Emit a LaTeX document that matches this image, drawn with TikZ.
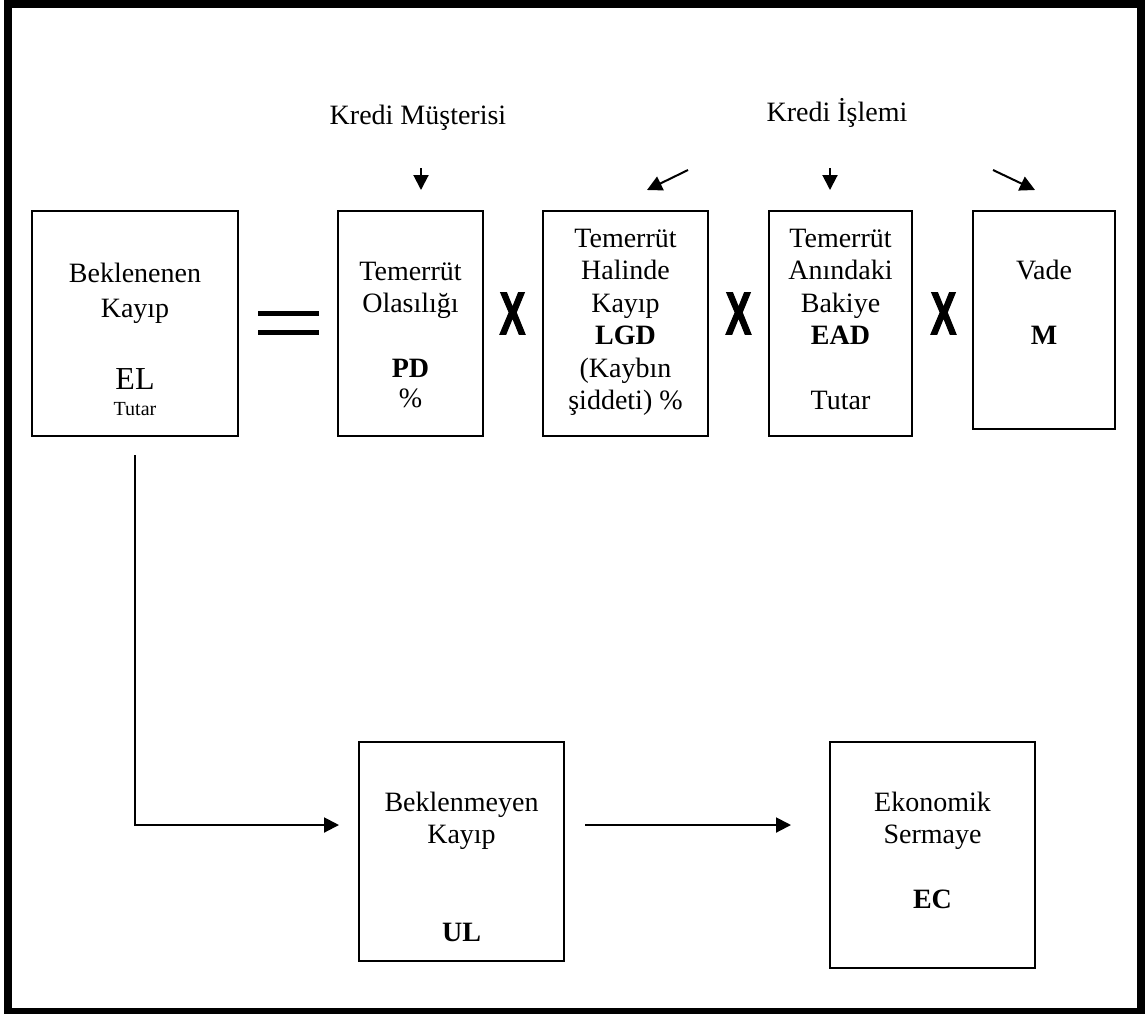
\documentclass[tikz,border=0pt]{standalone}
\usepackage{fontspec}
\usepackage{graphicx}
\setmainfont{Liberation Serif}
\newfontfamily\xfont[FakeBold=2.5]{Liberation Sans Bold}
\usetikzlibrary{arrows.meta}
\begin{document}
\begin{tikzpicture}[x=1pt,y=-1pt,
  box/.style={draw,line width=2pt,rectangle,inner sep=0pt},
  txt/.style={inner sep=0pt,anchor=base,font=\fontsize{28}{32.5}\selectfont},
  arr/.style={line width=2pt,-{Triangle[length=15pt,width=15pt]}},
  times/.style={inner sep=0pt,anchor=center,font=\xfont\fontsize{60}{60}\selectfont}]
\useasboundingbox (0,0) rectangle (1147,1013);
% frame
\draw[line width=8pt] (8,3.5) rectangle (1141,1012);

% boxes
\node[box,minimum width=206pt,minimum height=225pt] (EL) at (135,323.5) {};
\node[box,minimum width=145pt,minimum height=225pt] (PD) at (410.5,323.5) {};
\node[box,minimum width=165pt,minimum height=225pt] (LGD) at (625.5,323.5) {};
\node[box,minimum width=143pt,minimum height=225pt] (EAD) at (840.5,323.5) {};
\node[box,minimum width=142pt,minimum height=218pt] (VADE) at (1044,320) {};
\node[box,minimum width=205pt,minimum height=219pt] (UL) at (461.5,851.5) {};
\node[box,minimum width=205pt,minimum height=226pt] (EC) at (932.5,855) {};

% texts
\node[txt] (kmus) at (418,124) {Kredi Müşterisi};
\node[txt] (kisl) at (837,121) {Kredi İşlemi};

\node[txt] (ELt) at (135,282) {\begin{tabular}[t]{@{}c@{}}Beklenenen\\[2.5pt]Kayıp\\[39.5pt]{\fontsize{32}{32.5}\selectfont EL}\\[-6.5pt]{\fontsize{20}{24}\selectfont Tutar}\end{tabular}};
\node[txt] (PDt) at (410.5,280) {\begin{tabular}[t]{@{}c@{}}Temerrüt\\[-0.5pt]Olasılığı\\[32.5pt]\textbf{PD}\\[-2.5pt]\%\end{tabular}};
\node[txt] (LGDt) at (625.5,247) {\begin{tabular}[t]{@{}c@{}}Temerrüt\\Halinde\\Kayıp\\\textbf{LGD}\\(Kaybın\\şiddeti) \%\end{tabular}};
\node[txt] (EADt) at (840.5,247) {\begin{tabular}[t]{@{}c@{}}Temerrüt\\Anındaki\\Bakiye\\\textbf{EAD}\\[32.5pt]Tutar\end{tabular}};
\node[txt] (VADEt) at (1044,279) {\begin{tabular}[t]{@{}c@{}}Vade\\[32.5pt]\textbf{M}\end{tabular}};
\node[txt] (ULt) at (461.5,811) {\begin{tabular}[t]{@{}c@{}}Beklenmeyen\\Kayıp\\[65pt]\textbf{UL}\end{tabular}};
\node[txt] (ECt) at (932.5,811) {\begin{tabular}[t]{@{}c@{}}Ekonomik\\Sermaye\\[32.5pt]\textbf{EC}\end{tabular}};

% equals sign
\fill (258,311) rectangle (319,316);
\fill (258,330) rectangle (319,335);

% multiplication marks
\node[times] (x1) at (512.5,313.5) {\scalebox{0.64}[1]{X}};
\node[times] (x2) at (738.5,313.5) {\scalebox{0.64}[1]{X}};
\node[times] (x3) at (943.5,313.5) {\scalebox{0.64}[1]{X}};

% top arrows
\coordinate (a1s) at (421,168); \coordinate (a1e) at (421,190);
\coordinate (a2s) at (688,170); \coordinate (a2e) at (647,190);
\coordinate (a3s) at (830,168); \coordinate (a3e) at (830,190);
\coordinate (a4s) at (993,170); \coordinate (a4e) at (1035,190);
\draw[arr] (a1s) -- (a1e);
\draw[arr] (a2s) -- (a2e);
\draw[arr] (a3s) -- (a3e);
\draw[arr] (a4s) -- (a4e);

% lower arrows
\coordinate (elout) at (135,455);
\coordinate (ulin) at (339,825);
\coordinate (ulout) at (585,825);
\coordinate (ecin) at (791,825);
\draw[arr] (elout) |- (ulin);
\draw[arr] (ulout) -- (ecin);
\end{tikzpicture}
\end{document}
